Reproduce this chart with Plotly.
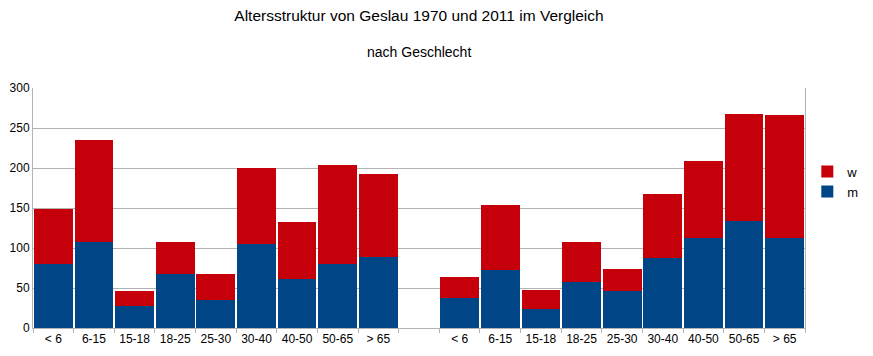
import plotly.graph_objects as go

age_groups = ["< 6", "6-15", "15-18", "18-25", "25-30", "30-40", "40-50", "50-65", "> 65"]
m_1970 = [80, 108, 27, 68, 35, 105, 61, 80, 89]
w_1970 = [69, 127, 19, 39, 33, 95, 71, 124, 103]
m_2011 = [37, 72, 24, 58, 46, 87, 113, 134, 113]
w_2011 = [27, 82, 23, 49, 28, 81, 96, 134, 153]

cats = ["1970 " + a for a in age_groups] + ["gap"] + ["2011 " + a for a in age_groups]
labels = age_groups + [""] + age_groups
m_vals = m_1970 + [None] + m_2011
w_vals = w_1970 + [None] + w_2011

BLUE = "#004586"
RED = "#c5000b"
FONT = "Liberation Sans, Arial, sans-serif"

# page body has an 8px default margin: figure is sized/offset to compensate
W, H = 865, 348
fig = go.Figure()
fig.add_trace(go.Bar(x=cats, y=m_vals, name="m", marker=dict(color=BLUE, line=dict(width=0))))
fig.add_trace(go.Bar(x=cats, y=w_vals, name="w", marker=dict(color=RED, line=dict(width=0))))

fig.update_layout(
    width=W, height=H,
    barmode="stack", bargap=0.047,
    paper_bgcolor="white", plot_bgcolor="white",
    margin=dict(l=25, r=68, t=80, b=28, autoexpand=False),
    font=dict(family=FONT, size=12, color="#000000"),
    showlegend=True,
    legend=dict(traceorder="reversed", x=1.003, y=0.61, xanchor="left", yanchor="middle",
                font=dict(size=13), itemwidth=30, tracegroupgap=0, bgcolor="rgba(0,0,0,0)"),
    title=dict(text="Altersstruktur von Geslau 1970 und 2011 im Vergleich",
               x=0.5, xref="paper", xanchor="center", y=1 - 8 / H, yanchor="middle",
               font=dict(size=15.5, family=FONT)),
    annotations=[dict(text="nach Geschlecht", x=0.5, xref="paper", xanchor="center",
                      y=(320 - 44) / 240, yref="paper", yanchor="middle", showarrow=False,
                      font=dict(size=14, family=FONT))],
)
fig.update_xaxes(type="category", categoryorder="array", categoryarray=cats,
                 tickvals=cats, ticktext=labels, tickson="boundaries", tickangle=0,
                 ticks="outside", ticklen=4, tickcolor="#b3b3b3",
                 showline=True, linecolor="#b3b3b3", linewidth=1, automargin=False,
                 showgrid=False, tickfont=dict(size=12))
fig.update_yaxes(range=[0, 300], tickvals=[0, 50, 100, 150, 200, 250, 300],
                 showgrid=True, gridcolor="#b3b3b3", gridwidth=1, automargin=False,
                 showline=True, linecolor="#b3b3b3", linewidth=1, mirror=True,
                 zeroline=False, ticks="", tickfont=dict(size=12))

fig.write_html("out.html")
